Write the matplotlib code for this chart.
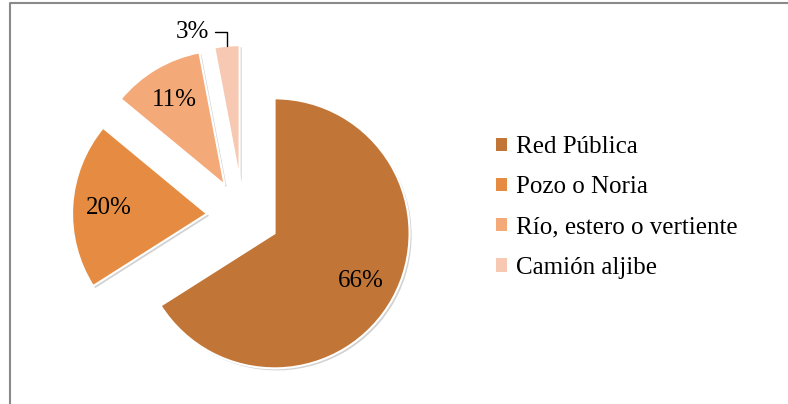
import matplotlib
matplotlib.use("Agg")
import numpy as np
import matplotlib.pyplot as plt
import matplotlib.patheffects as pe
from matplotlib.patches import Patch
from matplotlib.lines import Line2D

categories = ["Red Pública", "Pozo o Noria", "Río, estero o vertiente", "Camión aljibe"]
values = [66, 20, 11, 3]
colors = ["#C17638", "#E68C42", "#F4A978", "#F7C9B2"]

plt.rcParams["font.family"] = ["Liberation Serif", "DejaVu Serif"]
FS = 18

W, H = 788, 404
fig = plt.figure(figsize=(W / 100, H / 100), dpi=100)
ax = fig.add_axes([0, 0, 1, 1])

# pie centre / radius / explode in pixel units (axes span the whole figure)
cx, cy, r = 243, 188, 135
shadow = [pe.SimplePatchShadow(offset=(1.5, -1.5), shadow_rgbFace="gray", alpha=0.35), pe.Normal()]

wedges, texts, autotexts = ax.pie(
    values,
    colors=colors,
    explode=[36] * len(values),
    startangle=90,
    counterclock=False,
    center=(cx, cy),
    radius=r,
    autopct=lambda p: f"{p:.0f}%" if p > 5 else "",
    pctdistance=0.73,
    wedgeprops=dict(edgecolor="white", linewidth=1.5, path_effects=shadow),
    textprops=dict(fontsize=FS, color="black"),
)

# small slice gets its label outside with a leader line
w = wedges[-1]
mid = np.deg2rad((w.theta1 + w.theta2) / 2)
px, py = w.center[0] + r * np.cos(mid), w.center[1] + r * np.sin(mid)
ax.annotate(
    f"{values[-1]}%",
    xy=(px, py),
    xytext=(px - 34, py + 14),
    fontsize=FS,
    ha="center",
    va="center",
    arrowprops=dict(arrowstyle="-", color="black", lw=1,
                    connectionstyle="angle,angleA=0,angleB=90,rad=0",
                    shrinkA=2, shrinkB=0),
)

ax.set_xlim(0, W)
ax.set_ylim(0, H)
ax.set_aspect("auto")
ax.axis("off")

handles = [Patch(facecolor=c, edgecolor="none") for c in colors]
ax.legend(
    handles, categories,
    loc="center left",
    bbox_to_anchor=(496 / W, 196.5 / H),
    frameon=False,
    fontsize=FS,
    handlelength=0.45,
    handleheight=0.45,
    handletextpad=0.35,
    labelspacing=0.73,
    borderpad=0,
    borderaxespad=0,
)

# chart frame (left and top edges visible)
fig.add_artist(Line2D([10 / W, 10 / W, 1], [0, 1 - 3 / H, 1 - 3 / H],
                      transform=fig.transFigure, color="#8a8a8a", lw=1.5))

fig.savefig("out.png", dpi=100)
